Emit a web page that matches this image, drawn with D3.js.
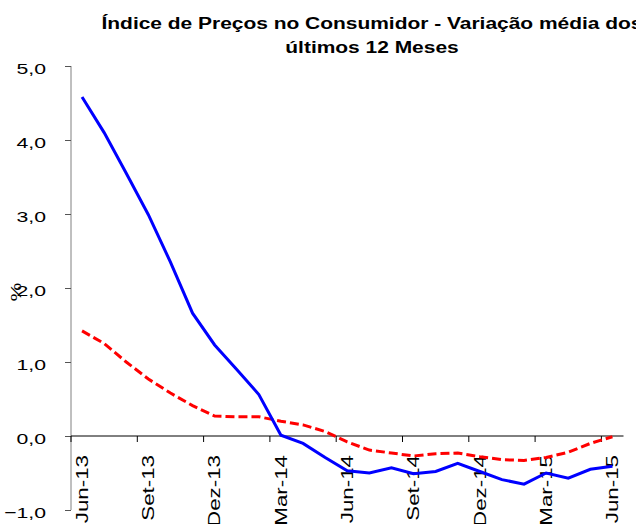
<!DOCTYPE html>
<html>
<head>
<meta charset="utf-8">
<script src="https://cdn.jsdelivr.net/npm/d3@7"></script>
<style>
  body { margin: 0; background: #fff; }
  text { font-family: "Liberation Sans", Arial, sans-serif; fill: #000; }
</style>
</head>
<body>
<div id="chart"></div>
<script>
// data
let months = ["Jun-13","Jul-13","Ago-13","Set-13","Out-13","Nov-13","Dez-13","Jan-14","Fev-14",
              "Mar-14","Abr-14","Mai-14","Jun-14","Jul-14","Ago-14","Set-14","Out-14","Nov-14",
              "Dez-14","Jan-15","Fev-15","Mar-15","Abr-15","Mai-15","Jun-15"];
let blueSeries = [4.58, 4.10, 3.55, 2.99, 2.35, 1.66, 1.23, 0.90, 0.56, 0.01, -0.10, -0.29, -0.47,
                  -0.50, -0.43, -0.51, -0.48, -0.37, -0.48, -0.59, -0.65, -0.50, -0.57, -0.45, -0.41];
let redSeries = [1.42, 1.25, 1.00, 0.77, 0.58, 0.41, 0.27, 0.26, 0.26, 0.20, 0.15, 0.06, -0.08,
                 -0.19, -0.23, -0.27, -0.24, -0.23, -0.28, -0.32, -0.33, -0.29, -0.22, -0.10, -0.01];
let yTicks = [5, 4, 3, 2, 1, 0, -1];
let titleLines = ["Índice de Preços no Consumidor - Variação média dos", "últimos 12 Meses"];

let width = 636, height = 524;
let plotLeft = 71, plotRight = 623.5, plotTop = 66, plotBottom = 510;
let stretch = 1.37; // text in the picture is drawn wide

let svg = d3.select("#chart").append("svg")
  .attr("width", width).attr("height", height);

let x = d3.scaleBand().domain(months).range([plotLeft, plotRight]).padding(0);
let y = d3.scaleLinear().domain([-1, 5]).range([plotBottom, plotTop]);
let cx = d => x(d) + x.bandwidth() / 2;

// title
svg.append("g").selectAll("text").data(titleLines).enter().append("text")
  .attr("transform", (d, i) => `translate(372,${29 + i * 24}) scale(1.31,1)`)
  .attr("text-anchor", "middle")
  .style("font-size", "16px").style("font-weight", "bold")
  .text(d => d);

// y axis
let yAxis = svg.append("g").attr("transform", `translate(${plotLeft},0)`)
  .call(d3.axisLeft(y).tickValues(yTicks).tickSize(6).tickFormat(""));
yAxis.select(".domain").attr("stroke", "#808080").attr("d", `M0,${plotTop}V${plotBottom}`);
yAxis.selectAll(".tick line").attr("stroke", "#555");

svg.append("g").selectAll("text").data(yTicks).enter().append("text")
  .attr("transform", d => `translate(46,${y(d) + 7.8}) scale(${stretch},1)`)
  .attr("text-anchor", "end")
  .style("font-size", "15.5px")
  .text(d => d3.format(".1f")(d).replace(".", ","));

svg.append("text")
  .attr("transform", `translate(16,292) rotate(-90) scale(${stretch},1)`)
  .attr("text-anchor", "middle").attr("dy", "0.35em")
  .style("font-size", "15.5px")
  .text("%");

// x axis on the zero line
let tickMonths = months.filter((d, i) => i % 3 === 0);
let xAxis = svg.append("g").attr("transform", `translate(0,${y(0)})`);
xAxis.append("line").attr("x1", plotLeft).attr("x2", plotRight).attr("stroke", "#000");
xAxis.selectAll("line.tk").data(tickMonths).enter().append("line").attr("class", "tk")
  .attr("x1", d => x(d)).attr("x2", d => x(d)).attr("y1", 0).attr("y2", 6)
  .attr("stroke", "#000");

svg.append("g").selectAll("text").data(tickMonths).enter().append("text")
  .attr("transform", d => `translate(${cx(d) + 5.8},455) rotate(-90) scale(${stretch},1)`)
  .attr("text-anchor", "end")
  .style("font-size", "16.3px")
  .text(d => d);

// lines
let line = d3.line().x((d, i) => cx(months[i])).y(d => y(d));

svg.append("path").datum(redSeries)
  .attr("d", line).attr("fill", "none")
  .attr("stroke", "#ff0000").attr("stroke-width", 3)
  .attr("stroke-dasharray", "9,4");

svg.append("path").datum(blueSeries)
  .attr("d", line).attr("fill", "none")
  .attr("stroke", "#0000ff").attr("stroke-width", 3);
</script>
</body>
</html>
